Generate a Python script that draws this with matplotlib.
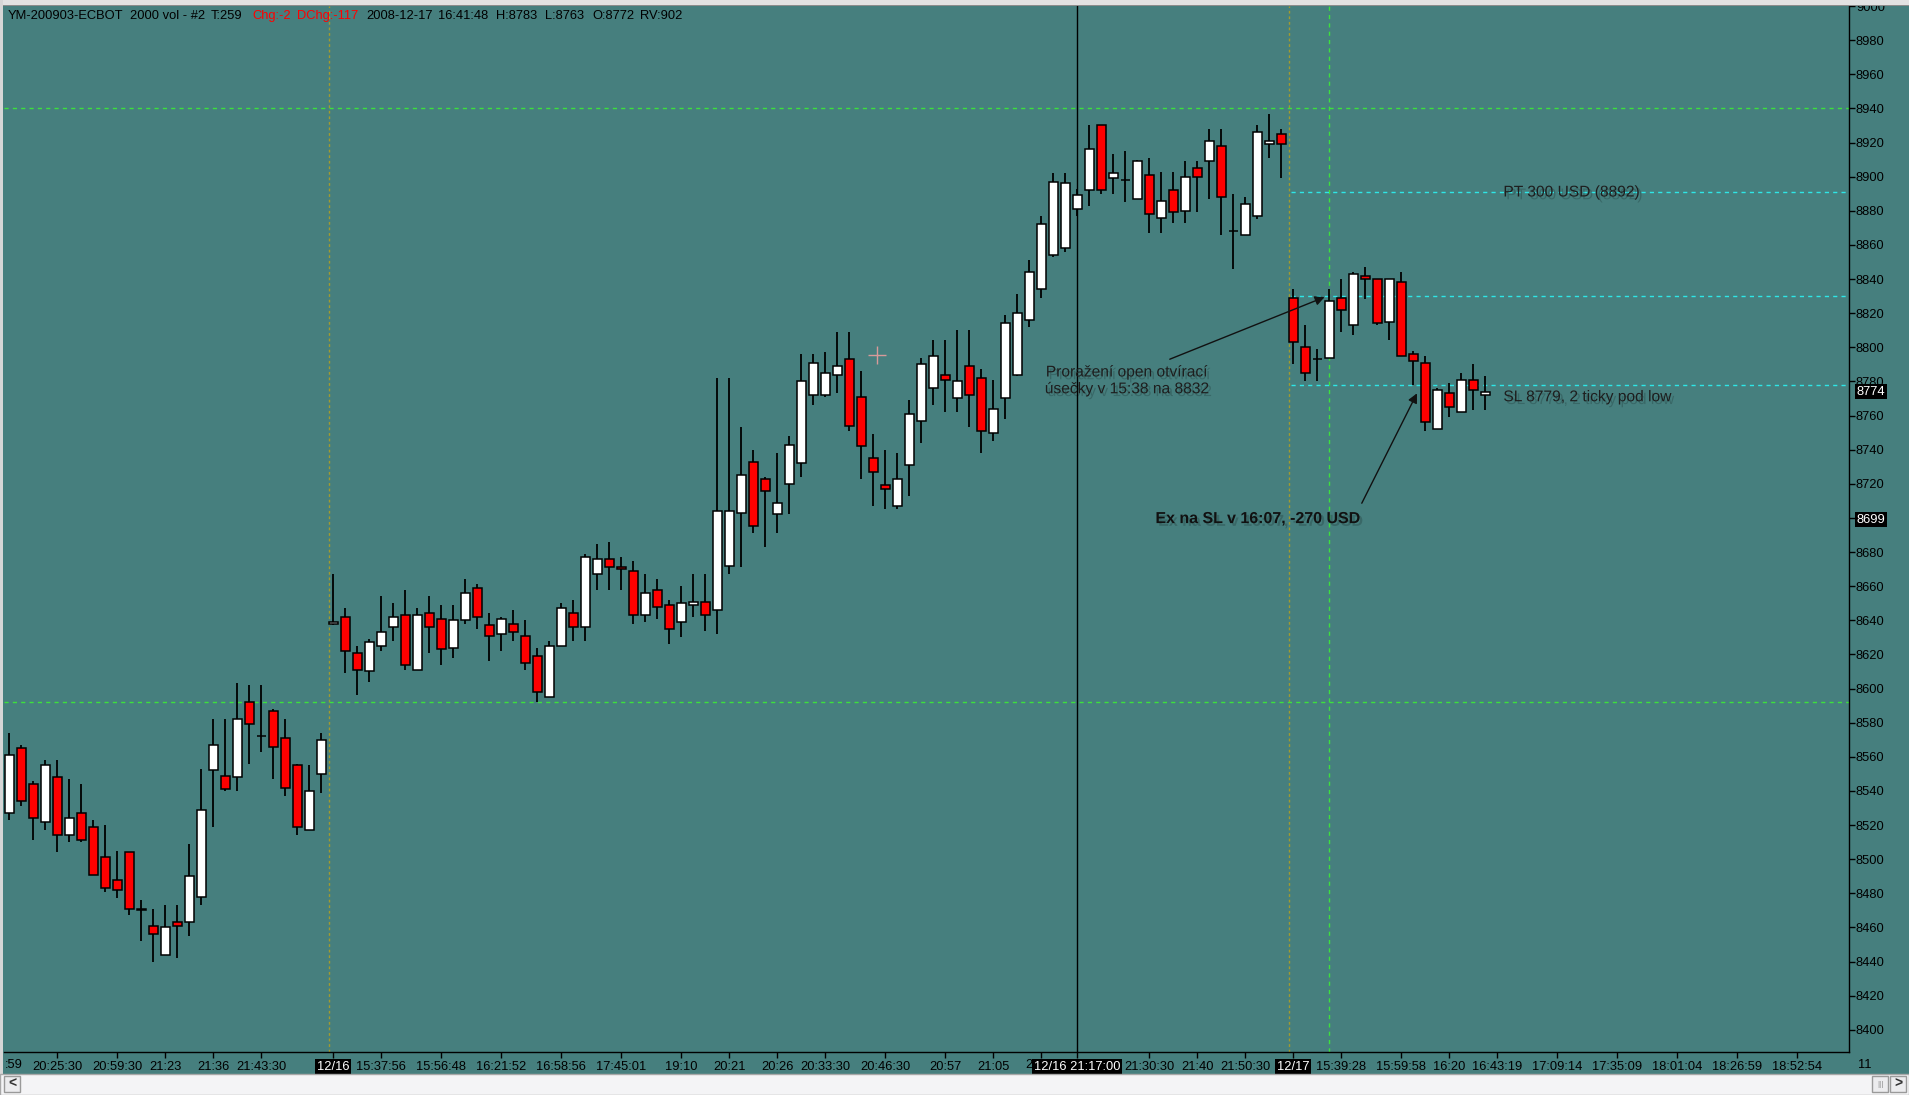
import matplotlib.pyplot as plt
import matplotlib.patheffects as pe
from matplotlib.patches import Rectangle

plt.rcParams['font.family'] = ['Liberation Sans', 'DejaVu Sans']

# OHLC of the 2000-volume bars (index 0 = leftmost bar)
opens = [8527, 8565, 8544, 8522, 8548, 8514, 8527, 8519, 8501, 8488,
         8504, 8470, 8461, 8444, 8463, 8463, 8478, 8552, 8549, 8548,
         8592, 8572, 8587, 8571, 8555, 8517, 8550, 8638, 8642, 8621,
         8610, 8625, 8636, 8643, 8611, 8644, 8641, 8624, 8640, 8659,
         8637, 8632, 8638, 8631, 8619, 8595, 8625, 8644, 8636, 8667,
         8676, 8671, 8669, 8643, 8658, 8649, 8639, 8649, 8651, 8646,
         8672, 8703, 8733, 8723, 8702, 8720, 8732, 8772, 8772, 8784,
         8793, 8771, 8735, 8719, 8707, 8731, 8757, 8776, 8784, 8770,
         8789, 8782, 8750, 8770, 8784, 8816, 8834, 8854, 8858, 8881,
         8892, 8930, 8899, 8898, 8887, 8901, 8876, 8892, 8880, 8905,
         8909, 8918, 8868, 8866, 8877, 8919, 8925, 8829, 8800, 8793,
         8794, 8829, 8813, 8842, 8840, 8815, 8838, 8796, 8791, 8752,
         8773, 8762, 8781, 8772]
highs = [8574, 8567, 8546, 8558, 8558, 8547, 8544, 8523, 8520, 8505,
         8504, 8476, 8471, 8473, 8473, 8509, 8553, 8582, 8582, 8603,
         8602, 8602, 8588, 8582, 8556, 8555, 8574, 8667, 8647, 8625,
         8629, 8654, 8650, 8658, 8647, 8654, 8649, 8649, 8664, 8661,
         8644, 8642, 8646, 8640, 8624, 8628, 8650, 8652, 8679, 8685,
         8686, 8677, 8675, 8667, 8664, 8652, 8660, 8667, 8667, 8782,
         8782, 8753, 8740, 8724, 8738, 8748, 8796, 8796, 8797, 8809,
         8809, 8786, 8749, 8740, 8738, 8769, 8794, 8804, 8804, 8810,
         8810, 8787, 8781, 8819, 8831, 8851, 8877, 8902, 8902, 8893,
         8930, 8930, 8913, 8915, 8910, 8911, 8903, 8903, 8909, 8909,
         8928, 8928, 8890, 8888, 8930, 8937, 8928, 8834, 8813, 8799,
         8834, 8840, 8844, 8847, 8840, 8840, 8844, 8798, 8795, 8776,
         8779, 8785, 8790, 8783]
lows = [8523, 8531, 8511, 8517, 8504, 8510, 8510, 8491, 8481, 8477,
        8467, 8452, 8440, 8444, 8442, 8455, 8473, 8519, 8540, 8540,
        8556, 8563, 8547, 8537, 8514, 8517, 8539, 8637, 8609, 8596,
        8604, 8622, 8628, 8611, 8611, 8621, 8614, 8618, 8638, 8635,
        8616, 8622, 8628, 8611, 8592, 8595, 8625, 8628, 8628, 8658,
        8658, 8658, 8638, 8639, 8641, 8626, 8630, 8642, 8634, 8632,
        8667, 8671, 8691, 8683, 8691, 8702, 8724, 8766, 8771, 8773,
        8751, 8723, 8707, 8705, 8705, 8713, 8744, 8766, 8762, 8762,
        8753, 8738, 8745, 8758, 8783, 8812, 8829, 8853, 8856, 8877,
        8883, 8890, 8890, 8885, 8887, 8867, 8867, 8873, 8873, 8879,
        8887, 8866, 8846, 8866, 8875, 8911, 8899, 8790, 8780, 8780,
        8794, 8809, 8807, 8828, 8813, 8804, 8795, 8778, 8751, 8752,
        8759, 8762, 8763, 8763]
closes = [8561, 8534, 8524, 8555, 8514, 8524, 8511, 8491, 8483, 8482,
          8471, 8471, 8456, 8460, 8461, 8490, 8529, 8567, 8541, 8582,
          8579, 8572, 8566, 8542, 8519, 8540, 8570, 8639, 8622, 8611,
          8627, 8633, 8642, 8614, 8643, 8636, 8623, 8640, 8656, 8642,
          8631, 8641, 8633, 8615, 8598, 8625, 8647, 8636, 8677, 8676,
          8671, 8670, 8643, 8656, 8648, 8635, 8650, 8651, 8643, 8704,
          8704, 8725, 8695, 8716, 8709, 8743, 8780, 8791, 8785, 8789,
          8754, 8742, 8727, 8717, 8723, 8761, 8790, 8795, 8781, 8780,
          8772, 8751, 8764, 8814, 8820, 8844, 8872, 8897, 8896, 8889,
          8916, 8892, 8902, 8898, 8909, 8878, 8886, 8879, 8900, 8900,
          8921, 8888, 8868, 8884, 8926, 8921, 8919, 8803, 8785, 8793,
          8827, 8822, 8843, 8840, 8814, 8840, 8795, 8792, 8756, 8775,
          8765, 8781, 8775, 8774]

x_tick_pos = [4, 9, 13, 17, 21, 27, 31, 36, 41, 46, 51, 56, 60, 64, 68, 73,
              78, 82, 86, 89, 95, 99, 103, 107, 111, 116, 120, 124, 129,
              134, 139, 144, 149]
x_tick_labels = ['20:25:30', '20:59:30', '21:23', '21:36', '21:43:30', '12/16',
                 '15:37:56', '15:56:48', '16:21:52', '16:58:56', '17:45:01',
                 '19:10', '20:21', '20:26', '20:33:30', '20:46:30', '20:57',
                 '21:05', '', '12/16 21:17:00', '21:30:30', '21:40',
                 '21:50:30', '12/17', '15:39:28', '15:59:58', '16:20',
                 '16:43:19', '17:09:14', '17:35:09', '18:01:04', '18:26:59',
                 '18:52:54']
boxed_x_labels = ['12/16', '12/16 21:17:00', '12/17']
y_ticks = list(range(8400, 9001, 20))
price_boxes = [8774, 8699]

session_breaks = [26.6, 106.6]
cursor_bar = 89
entry_bar = 110
green_levels = [8940, 8592]
trade_levels = [8891, 8830, 8778]   # PT, entry, SL

header = [("YM-200903-ECBOT", 'black'), ("2000 vol - #2", 'black'),
          ("T:259", 'black'), ("Chg:-2", 'red'), ("DChg:-117", 'red'),
          ("2008-12-17", 'black'), ("16:41:48", 'black'), ("H:8783", 'black'),
          ("L:8763", 'black'), ("O:8772", 'black'), ("RV:902", 'black')]
header_x = [8, 130, 211, 252, 297, 366, 438, 496, 545, 592, 640]

TEAL = '#467F7E'
W, H = 1909, 1095

fig = plt.figure(figsize=(W / 100, H / 100), dpi=100, facecolor=TEAL)
ax = fig.add_axes([3.6 / W, (H - 1052) / H, (1849 - 3.6) / W, (1052 - 6) / H])
ax.set_facecolor(TEAL)
ax.set_xlim(-0.475, 153.3)
ax.set_ylim(8387, 9000)

# reference lines
for x in session_breaks:
    ax.axvline(x, color='#A39B2E', lw=1, ls=(0, (2, 2)), zorder=1)
ax.axvline(entry_bar, color='#3DE03D', lw=1, ls=(0, (3, 3)), zorder=1)
ax.axvline(cursor_bar, color='black', lw=1, zorder=1)
for y in green_levels:
    ax.axhline(y, color='#3DE03D', lw=1, ls=(0, (3, 3)), zorder=1)
ax.hlines(trade_levels, 106.8, 153.3, color='#2EE6E6', lw=1, ls=(0, (3, 3)), zorder=1)

# candles
idx = list(range(len(opens)))
ax.vlines(idx, lows, highs, color='black', lw=1.3, zorder=2)
bottoms = [min(o, c) for o, c in zip(opens, closes)]
heights = [abs(c - o) for o, c in zip(opens, closes)]
colors = ['#FF0000' if c < o else 'white' for o, c in zip(opens, closes)]
ax.bar(idx, heights, bottom=bottoms, width=0.7, color=colors,
       edgecolor='black', lw=1.1, zorder=3)

# mouse cursor cross
ax.plot(72.3, 8795.5, marker='+', ms=13, mew=1, color='#D89A9A', zorder=4)

# axes styling
for s in ['left', 'top']:
    ax.spines[s].set_visible(False)
for s in ['right', 'bottom']:
    ax.spines[s].set_color('black')
    ax.spines[s].set_linewidth(1)
ax.yaxis.tick_right()
ax.set_yticks(y_ticks)
ax.tick_params(axis='y', direction='out', length=4, width=1, pad=1,
               labelsize=9.3, colors='black')
ax.set_xticks(x_tick_pos, x_tick_labels)
ax.tick_params(axis='x', direction='out', length=4, width=1, pad=2.5,
               labelsize=9.3, colors='black')
for lbl in ax.get_xticklabels():
    if lbl.get_text() in boxed_x_labels:
        lbl.set_color('white')
        lbl.set_bbox(dict(facecolor='black', edgecolor='none', pad=1.2))

for p in price_boxes:
    ax.text(1.0042, p, str(p), transform=ax.get_yaxis_transform(), ha='left',
            va='center', fontsize=9.3, color='white', zorder=6,
            bbox=dict(facecolor='black', edgecolor='none', pad=1))

# annotations
shadow = [pe.SimplePatchShadow(offset=(2, -2), shadow_rgbFace='black', alpha=0.18),
          pe.Normal()]
ax.text(93.1, 8780.6, 'Proražení open otvírací\núsečky v 15:38 na 8832',
        ha='center', va='center', fontsize=11.2, color='#1E1E1E',
        linespacing=1.15, path_effects=shadow, zorder=5)
ax.text(124.5, 8891, 'PT 300 USD (8892)', ha='left', va='center',
        fontsize=11.2, color='#1E1E1E', path_effects=shadow, zorder=5)
ax.text(124.5, 8771, 'SL 8779, 2 ticky pod low', ha='left', va='center',
        fontsize=11.2, color='#1E1E1E', path_effects=shadow, zorder=5)
ax.text(104.1, 8699.6, 'Ex na SL v 16:07, -270 USD', ha='center', va='center',
        fontsize=11.5, fontweight='bold', color='#111111',
        path_effects=shadow, zorder=5)
arrow = dict(arrowstyle='-|>', color='#111111', lw=1, mutation_scale=14,
             shrinkA=0, shrinkB=0)
ax.annotate('', xy=(109.6, 8829.4), xytext=(96.7, 8793), arrowprops=arrow, zorder=5)
ax.annotate('', xy=(117.3, 8773), xytext=(112.7, 8708.6), arrowprops=arrow, zorder=5)

# header line
for (txt, col), x in zip(header, header_x):
    fig.text(x / W, 1 - 16 / H, txt, fontsize=9.3, color=col, ha='left', va='center')

# partly hidden labels at the ends of the time axis and behind the cursor box
fig.text(5 / W, 1 - 1065 / H, ':59', fontsize=9.3, ha='left', va='center')
fig.text(1033 / W, 1 - 1065 / H, '2', fontsize=9.3, ha='right', va='center')
fig.text(1865 / W, 1 - 1065 / H, '11', fontsize=9.3, ha='center', va='center')

# window chrome: top frame, left border, scrollbar
fig.patches.append(Rectangle((0, 1 - 6 / H), 1, 6 / H, transform=fig.transFigure,
                             facecolor='#E2E2E2', edgecolor='none', zorder=10))
fig.patches.append(Rectangle((0, 1 - 6 / H), 1, 1.2 / H, transform=fig.transFigure,
                             facecolor='#8C8C8C', edgecolor='none', zorder=10))
fig.patches.append(Rectangle((0, 0), 3 / W, 1, transform=fig.transFigure,
                             facecolor='#D6D6D6', edgecolor='none', zorder=10))
fig.patches.append(Rectangle((0, 0), 1, 21 / H, transform=fig.transFigure,
                             facecolor='#F4F4F6', edgecolor='#A8A8A8', lw=1, zorder=10))
for bx, bw in [(4, 16), (1872, 16), (1890, 16)]:
    fig.patches.append(Rectangle((bx / W, 3 / H), bw / W, 16 / H,
                                 transform=fig.transFigure, facecolor='#ECECEE',
                                 edgecolor='#9A9A9A', lw=1, zorder=11))
fig.text(12 / W, 11 / H, '<', fontsize=10, fontweight='bold', ha='center',
         va='center', color='#333333', zorder=12)
fig.text(1880 / W, 11 / H, '|||', fontsize=6, ha='center', va='center',
         color='#888888', zorder=12)
fig.text(1898 / W, 11 / H, '>', fontsize=10, fontweight='bold', ha='center',
         va='center', color='#333333', zorder=12)

fig.savefig('out.png', dpi=100, facecolor=TEAL)
